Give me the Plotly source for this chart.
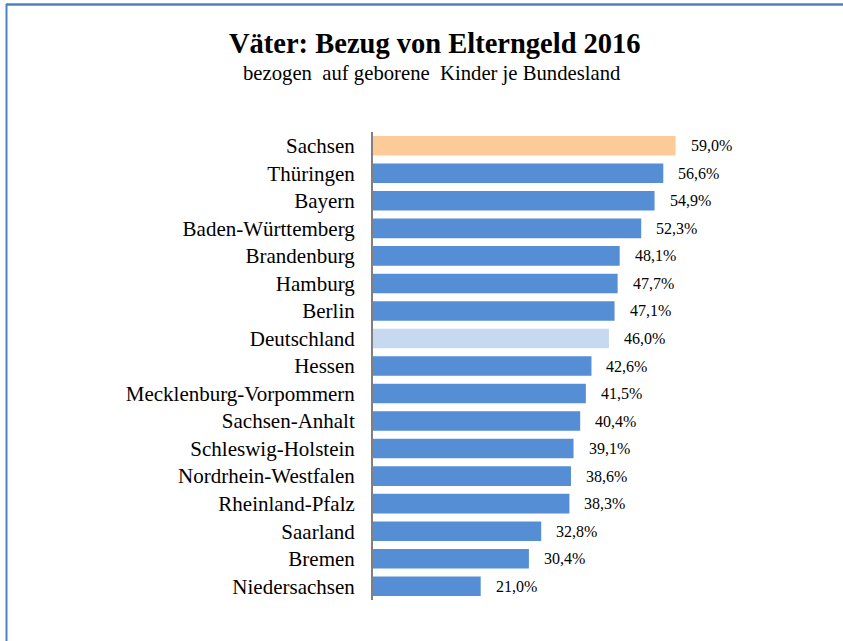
import plotly.graph_objects as go

categories = ["Sachsen", "Thüringen", "Bayern", "Baden-Württemberg", "Brandenburg",
              "Hamburg", "Berlin", "Deutschland", "Hessen", "Mecklenburg-Vorpommern",
              "Sachsen-Anhalt", "Schleswig-Holstein", "Nordrhein-Westfalen",
              "Rheinland-Pfalz", "Saarland", "Bremen", "Niedersachsen"]
values = [59.0, 56.6, 54.9, 52.3, 48.1, 47.7, 47.1, 46.0, 42.6, 41.5, 40.4, 39.1,
          38.6, 38.3, 32.8, 30.4, 21.0]

BLUE = "#558ED5"
ORANGE = "#FCCB98"
LIGHT = "#C6D9F1"
colors = [ORANGE if c == "Sachsen" else LIGHT if c == "Deutschland" else BLUE for c in categories]
labels = [f"{v:.1f}".replace(".", ",") + "%" for v in values]

FONT = "Liberation Serif, Times New Roman, serif"
W, H = 843, 641
L, R, T, B = 373, 111, 132, 41
pw, ph = W - L - R, H - T - B
XMAX = 70

fig = go.Figure(go.Bar(
    x=values, y=categories, orientation="h",
    marker=dict(color=colors, line=dict(width=0)),
    width=0.71, hoverinfo="skip",
))

for c, v, t in zip(categories, values, labels):
    fig.add_annotation(x=v, y=c, text=t, showarrow=False, xanchor="left",
                       xshift=13, font=dict(family=FONT, size=16, color="#000"))

def px(x):
    return (x - L) / pw

def py(y):
    return (H - B - y) / ph

# frame lines (left and top)
fig.add_shape(type="line", xref="paper", yref="paper", x0=px(6.5), x1=px(6.5),
              y0=py(4), y1=py(645), line=dict(color="#4F81BD", width=2))
fig.add_shape(type="line", xref="paper", yref="paper", x0=px(6), x1=px(850),
              y0=py(4.5), y1=py(4.5), line=dict(color="#4F81BD", width=2.5))

fig.add_annotation(xref="paper", yref="paper", x=px(434.5), y=py(43), text="<b>Väter: Bezug von Elterngeld 2016</b>",
                   showarrow=False, xanchor="center", yanchor="middle",
                   font=dict(family=FONT, size=28.5, color="#000"))
fig.add_annotation(xref="paper", yref="paper", x=px(432), y=py(73), text="bezogen  auf geborene  Kinder je Bundesland",
                   showarrow=False, xanchor="center", yanchor="middle",
                   font=dict(family=FONT, size=20.7, color="#000"))

fig.update_layout(
    width=W, height=H, margin=dict(l=L, r=R, t=T, b=B, autoexpand=False),
    paper_bgcolor="white", plot_bgcolor="white", showlegend=False,
    xaxis=dict(range=[0, XMAX], visible=False, fixedrange=True),
    yaxis=dict(autorange="reversed", showline=True, linecolor="#808080", linewidth=2,
               ticks="outside", ticklen=12, tickcolor="rgba(0,0,0,0)", showgrid=False,
               fixedrange=True,
               tickfont=dict(family=FONT, size=21, color="#000")),
)

fig.write_html("out.html", config={"displayModeBar": False},
               post_script="document.body.style.margin='0';document.body.style.padding='0';")
